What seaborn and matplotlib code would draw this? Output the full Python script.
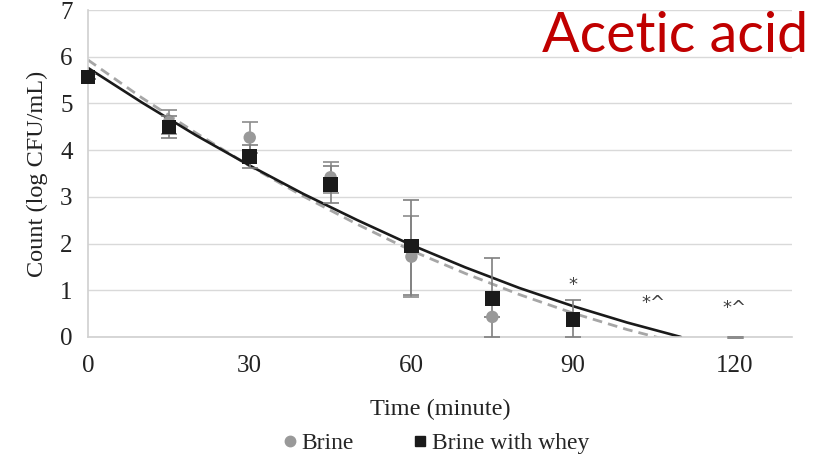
import numpy as np
import pandas as pd
import matplotlib
matplotlib.use("Agg")
import matplotlib.pyplot as plt
import seaborn as sns
from matplotlib.lines import Line2D

# ---- data ----
time_brine = [0, 15, 30, 45, 60, 75]
count_brine = [5.58, 4.60, 4.27, 3.42, 1.72, 0.43]
err_brine = [0.05, 0.26, 0.33, 0.33, 0.87, 0.0]

time_whey = [0, 15, 30, 45, 60, 75, 90]
count_whey = [5.57, 4.50, 3.87, 3.26, 1.95, 0.82, 0.37]
err_whey_low = [0.05, 0.24, 0.25, 0.40, 1.05, 0.82, 0.37]
err_whey_high = [0.05, 0.24, 0.25, 0.40, 0.98, 0.87, 0.42]

zero_time = [120]
zero_count = [0.0]

# trend lines
trend_time = [0, 10, 20, 30, 40, 50, 60, 70, 80, 90, 100, 110]
trend_brine = [5.93, 5.12, 4.37, 3.66, 3.01, 2.41, 1.85, 1.36, 0.91, 0.51, 0.16, -0.14]
trend_whey = [5.76, 5.02, 4.32, 3.67, 3.06, 2.50, 1.97, 1.49, 1.05, 0.66, 0.31, 0.00]

annot_x = [90, 105, 120]
annot_y = [1.12, 0.72, 0.62]
annot_text = ["*", "*^", "*^"]

x_ticks = [0, 30, 60, 90, 120]
y_ticks = [0, 1, 2, 3, 4, 5, 6, 7]

sns.set_theme(style="white")
plt.rcParams["font.family"] = ["Liberation Serif", "DejaVu Serif"]

fig = plt.figure(figsize=(8.18, 4.59), dpi=100)
ax = fig.add_axes([0.1076, 0.2658, 0.8606, 0.7124])
ax.set_xlim(0, 130.6)
ax.set_ylim(0, 7)

gray = "#999999"
black = "#1a1a1a"

ax.yaxis.grid(True, color="#d9d9d9", linewidth=1.0)
ax.set_axisbelow(True)

df_b = pd.DataFrame({"t": time_brine, "c": count_brine})
df_w = pd.DataFrame({"t": time_whey, "c": count_whey})
df_tr = pd.DataFrame({"t": trend_time, "b": trend_brine, "w": trend_whey})

sns.lineplot(data=df_tr, x="t", y="b", ax=ax, color="#a6a6a6",
             linestyle=(0, (3.5, 2.2)), linewidth=2.0, zorder=2)
sns.lineplot(data=df_tr, x="t", y="w", ax=ax, color=black,
             linewidth=1.9, zorder=2)

# error bars
ax.errorbar(time_brine, count_brine, yerr=err_brine, fmt="none",
            ecolor="#8c8c8c", elinewidth=1.2, capsize=5.5, capthick=1.2, zorder=3)
ax.errorbar(zero_time, zero_count, yerr=[0], fmt="none",
            ecolor="#8c8c8c", elinewidth=1.2, capsize=5.5, capthick=2, zorder=3,
            clip_on=False)
ax.errorbar(time_whey, count_whey, yerr=[err_whey_low, err_whey_high], fmt="none",
            ecolor="#7f7f7f", elinewidth=1.2, capsize=5.5, capthick=1.2, zorder=3)

# markers
sns.scatterplot(data=df_b, x="t", y="c", ax=ax, color=gray, marker="o",
                s=80, edgecolor="none", zorder=4, legend=False, clip_on=False)
sns.scatterplot(data=df_w, x="t", y="c", ax=ax, color=black, marker="s",
                s=110, edgecolor="none", zorder=5, legend=False, clip_on=False)

for x, y, t in zip(annot_x, annot_y, annot_text):
    ax.text(x, y, t, ha="center", va="center", fontsize=13, color="#404040",
            family=["DejaVu Sans"])

ax.set_xticks(x_ticks)
ax.set_yticks(y_ticks)
ax.tick_params(axis="both", labelsize=18, colors="#222222", length=0)
ax.tick_params(axis="x", pad=13)
ax.tick_params(axis="y", pad=11)
ax.set_xlabel("Time (minute)", fontsize=17.5, color="#222222", labelpad=16)
ax.set_ylabel("Count (log CFU/mL)", fontsize=17.5, color="#222222", labelpad=9)

for s in ["top", "right"]:
    ax.spines[s].set_visible(False)
for s in ["left", "bottom"]:
    ax.spines[s].set_color("#d0d0d0")
    ax.spines[s].set_linewidth(1.2)

handles = [
    Line2D([], [], marker="o", color=gray, linestyle="none", markersize=7.5),
    Line2D([], [], marker="s", color=black, linestyle="none", markersize=7.5),
]
fig.legend(handles, ["Brine", "Brine with whey"], loc="lower center",
           bbox_to_anchor=(0.53, -0.035), ncol=2, frameon=False, fontsize=17,
           handletextpad=0.0, columnspacing=2.3, handlelength=1.0)

fig.text(0.988, 0.975, "Acetic acid", ha="right", va="top", fontsize=40,
         color="#C00000", family=["Lato", "DejaVu Sans"])

fig.savefig("out.png", dpi=100)
